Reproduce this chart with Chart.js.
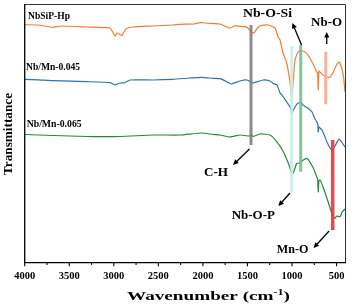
<!DOCTYPE html>
<html><head><meta charset="utf-8">
<script src="https://cdn.jsdelivr.net/npm/chart.js@4.4.1/dist/chart.umd.min.js"></script>
<style>html,body{margin:0;padding:0;background:#fff;}canvas{display:block;}</style>
</head><body>
<canvas id="c" width="360" height="307"></canvas>
<script>
// ---------- DATA ----------
const xTickLabels = ['4000','3500','3000','2500','2000','1500','1000','500'];
const xMinorTicks = [3750,3250,2750,2250,1750,1250,750];
const seriesNames = ['NbSiP-Hp','Nb/Mn-0.045','Nb/Mn-0.065'];

const hpWavenumber = [4000,3850,3682,3600,3300,3043,2986,2964,2930,2908,2874,2852,2784,2560,2335,2257,2100,2010,1976,1886,1808,1696,1639,1584,1528,1494,1460,1426,1396,1359,1269,1190,1157,1134,1101,1062,1022,1003,989,966,933,888,854,820,775,742,723,712,705,698,685,652,610,573,536,495,472,442,420,405];
const hpT = [238,237.7,235.4,236.7,235.7,234.7,226.7,229.7,228.2,227.2,232.7,234.4,235.7,236.7,237.7,238.4,238.7,240.4,239.7,239.2,238.7,234.7,237,236.2,236,234.7,230.7,229.7,233.7,237,237.7,234.7,225.7,222.7,209.7,200.7,180.7,165.7,177.7,202.7,210.7,211.7,210.7,207.7,200.7,194.7,190.7,189.7,172.7,191.7,190.7,187.7,185.7,185.7,190.7,198.7,200.7,194.7,184.7,170.7];

const mn045Wavenumber = [4000,3850,3682,3301,3043,2986,2930,2874,2818,2560,2335,2145,2010,1886,1808,1696,1677,1584,1505,1460,1437,1325,1247,1213,1168,1134,1112,1059,1022,1003,966,933,891,876,820,775,742,720,710,705,698,685,663,629,610,554,517,472,442,405];
const mn045T = [183.4,182.9,182,181,180,177.7,179.7,180,182.7,182.7,183.4,184.7,185.4,184.4,184,179.4,178.7,181.7,182.7,180.7,179.7,182.7,181.7,179.4,177.7,169.7,167.7,160.7,155.7,149.7,155.7,159.7,159.4,157.7,154.4,150.7,143.7,140.7,138.7,130.7,135.7,134.7,132.7,125.7,121,112.7,116.7,123.7,120.7,115.7];

const mn065Wavenumber = [4000,3682,3301,3121,2930,2560,2257,2010,1886,1808,1696,1584,1472,1460,1440,1359,1247,1171,1097,1041,1003,985,947,910,873,830,761,723,712,705,698,685,652,592,543,517,498,461,435,405];
const mn065T = [128.2,127.2,126.2,126,126.2,127.7,127.7,129.7,128.2,127.7,125.7,127.7,126.7,128.7,126.2,128.7,127.7,121,111,99.4,90,89.7,99.4,99.7,102.7,104.2,94.7,86,83.7,70.7,81.7,82.7,76,60.2,46.7,44.4,46.7,46,51,53.7];

const bandWavenumber = [1460,1003,902,621,543];
const bandTop = [237.7,216.7,217.7,211,122.7];
const bandBottom = [117.7,71,91,158.4,32.7];

const annotationLabels = ['Nb-O-Si','Nb-O','C-H','Nb-O-P','Mn-O'];

// ---------- STYLE / LAYOUT ----------
const seriesColors = ['#f57a30','#2f71b3','#23883a'];
const bandColors = ['rgba(128,128,128,0.9)','rgba(196,238,232,0.9)','rgba(120,190,140,0.9)','rgba(248,170,140,0.9)','rgba(224,56,56,0.9)'];
const bandWidths = [3,3,3,3,3.5];
const FONT = '"Liberation Serif","Times New Roman",serif';
// series label placement: [wavenumber(left), T(center), targetWidth, fontSize]
const seriesLabelPos = [[3963,246.7,42,10],[3985,195.7,54,10],[3978,138.7,55,10]];
// annotation text: [wavenumber(center), T(center), targetWidth, fontSize]
const annotTextPos = [[1275,248.7,49,12.5],[612,240.2,31,12.5],[1853,90.2,24,12.5],[1434,46.7,43.3,12.5],[994,13.2,31.6,12.5]];
// arrows: [tailWn, tailT, tipWn, tipT]
const arrowPos = [[893,217.7,996,239.7],[610,218.7,610,230.7],[1477,113.7,1662,97.7],[1022,69.7,1153,56.7],[584,31.7,758,14.7]];

function toPts(xs, ys){ return xs.map((x,i)=>({x:x,y:ys[i]})); }

const datasets = [];
bandWavenumber.forEach((w,i)=>{
  datasets.push({data:[{x:w,y:bandTop[i]},{x:w,y:bandBottom[i]}], borderColor:bandColors[i], borderWidth:bandWidths[i], borderCapStyle:'butt', pointRadius:0, tension:0, order:0});
});
[[hpWavenumber,hpT],[mn045Wavenumber,mn045T],[mn065Wavenumber,mn065T]].forEach((s,i)=>{
  datasets.push({label:seriesNames[i], data:toPts(s[0],s[1]), borderColor:seriesColors[i], borderWidth:1.2, pointRadius:0, tension:0.15, order:1});
});

function drawStretched(ctx, parts, x, y, targetW, align){
  let w = 0;
  parts.forEach(p=>{ ctx.font = 'bold '+p.size+'px '+FONT; p.w = ctx.measureText(p.t).width; w += p.w; });
  const sx = targetW / w;
  ctx.save();
  ctx.translate(x, y);
  ctx.scale(sx, 1);
  let cx = align==='left' ? 0 : -w/2;
  ctx.textBaseline = 'middle';
  ctx.textAlign = 'left';
  parts.forEach(p=>{ ctx.font = 'bold '+p.size+'px '+FONT; ctx.fillText(p.t, cx, p.dy||0); cx += p.w; });
  ctx.restore();
}

function arrow(ctx, x1, y1, x2, y2){
  const a = Math.atan2(y2-y1, x2-x1), L = 5.5, H = 2.6;
  ctx.beginPath(); ctx.moveTo(x1,y1); ctx.lineTo(x2 - Math.cos(a)*L*0.8, y2 - Math.sin(a)*L*0.8); ctx.stroke();
  ctx.beginPath();
  ctx.moveTo(x2,y2);
  ctx.lineTo(x2 - Math.cos(a)*L + Math.sin(a)*H, y2 - Math.sin(a)*L - Math.cos(a)*H);
  ctx.lineTo(x2 - Math.cos(a)*L - Math.sin(a)*H, y2 - Math.sin(a)*L + Math.cos(a)*H);
  ctx.closePath(); ctx.fill();
}

const decor = {
  id:'decor',
  afterDraw(chart){
    const ctx = chart.ctx, xs = chart.scales.x, ys = chart.scales.y, a = chart.chartArea;
    ctx.save();
    ctx.fillStyle = '#000'; ctx.strokeStyle = '#000';
    ctx.lineWidth = 1;
    ctx.strokeStyle = '#333';
    ctx.beginPath(); ctx.moveTo(a.left, a.top+0.5); ctx.lineTo(a.right+0.5, a.top+0.5); ctx.lineTo(a.right+0.5, a.bottom); ctx.stroke();
    ctx.strokeStyle = '#000'; ctx.lineWidth = 1.3;
    ctx.beginPath(); ctx.moveTo(a.left, a.top); ctx.lineTo(a.left, a.bottom); ctx.lineTo(a.right+1, a.bottom); ctx.stroke();
    ctx.lineWidth = 1.1;
    xTickLabels.forEach(l=>{
      const px = xs.getPixelForValue(+l);
      ctx.beginPath(); ctx.moveTo(px, a.bottom); ctx.lineTo(px, a.bottom+3.5); ctx.stroke();
      ctx.font = 'bold 10.5px '+FONT; ctx.textAlign='center'; ctx.textBaseline='middle';
      ctx.fillText(l, px, a.bottom+13.5);
    });
    xMinorTicks.forEach(v=>{
      const px = xs.getPixelForValue(v);
      ctx.beginPath(); ctx.moveTo(px, a.bottom); ctx.lineTo(px, a.bottom+2.2); ctx.stroke();
    });
    drawStretched(ctx, [{t:'Wavenumber (cm',size:13.5},{t:'-1',size:8.5,dy:-4},{t:')',size:13.5}], 208.5, a.bottom+34.3, 163, 'center');
    ctx.save(); ctx.translate(9, 134); ctx.rotate(-Math.PI/2);
    drawStretched(ctx, [{t:'Transmittance',size:13}], 0, 0, 82, 'center');
    ctx.restore();
    seriesNames.forEach((n,i)=>{
      const p = seriesLabelPos[i];
      drawStretched(ctx, [{t:n,size:p[3]}], xs.getPixelForValue(p[0]), ys.getPixelForValue(p[1]), p[2], 'left');
    });
    annotationLabels.forEach((n,i)=>{
      const p = annotTextPos[i];
      drawStretched(ctx, [{t:n,size:p[3]}], xs.getPixelForValue(p[0]), ys.getPixelForValue(p[1]), p[2], 'center');
    });
    ctx.lineWidth = 1.3;
    arrowPos.forEach(p=>{
      arrow(ctx, xs.getPixelForValue(p[0]), ys.getPixelForValue(p[1]), xs.getPixelForValue(p[2]), ys.getPixelForValue(p[3]));
    });
    ctx.restore();
  }
};

new Chart(document.getElementById('c'), {
  type:'line',
  data:{datasets:datasets},
  options:{
    responsive:false, animation:false, devicePixelRatio:1,
    layout:{padding:{top:4,right:15,left:0,bottom:0}},
    plugins:{legend:{display:false}, tooltip:{enabled:false}},
    scales:{
      x:{type:'linear', reverse:true, min:405, max:4000,
         grid:{display:false}, border:{display:false}, ticks:{display:false},
         afterFit(s){ s.height = 44.3; }},
      y:{type:'linear', min:0, max:258.7,
         grid:{display:false}, border:{display:false}, ticks:{display:false},
         afterFit(s){ s.width = 24.7; }}
    }
  },
  plugins:[decor]
});
</script>
</body></html>
